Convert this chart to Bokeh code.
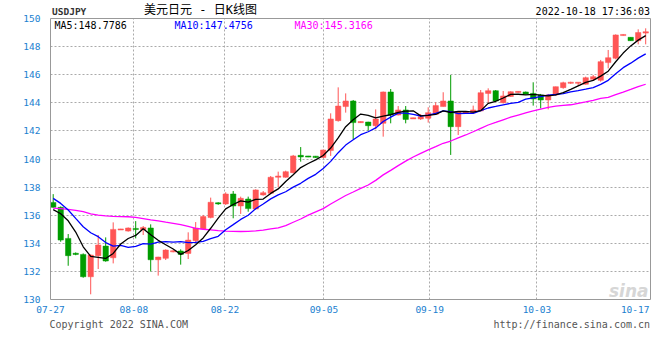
import numpy as np
from bokeh.plotting import figure
from bokeh.models import (Range1d, FixedTicker, Label, ColumnDataSource, LinearAxis, Grid)
from bokeh.embed import file_html
from bokeh.resources import INLINE

# ---- data (USDJPY daily K-line) ----
open_ = [136.91, 136.56, 134.35, 133.28, 133.21, 131.62, 133.12, 133.80, 132.97, 134.97,
         134.87, 135.06, 134.97, 135.09, 132.83, 132.93, 133.41, 133.45, 133.28, 134.18,
         135.02, 135.83, 136.86, 136.80, 137.51, 136.66, 137.15, 136.44, 137.44, 137.56,
         138.70, 138.70, 139.03, 140.26, 140.20, 140.20, 140.10, 140.60, 142.73, 143.73,
         144.13, 142.60, 142.63, 142.37, 142.54, 144.77, 143.13, 143.49, 142.87, 142.85,
         142.90, 143.18, 143.73, 144.13, 142.30, 143.30, 143.30, 143.42, 144.67, 144.86,
         144.01, 144.45, 144.75, 144.77, 144.67, 144.56, 144.20, 144.56, 145.08, 145.40,
         145.40, 145.32, 145.67, 145.60, 146.86, 147.17, 148.80, 148.66, 148.42, 148.96]
high = [137.50, 136.62, 134.66, 133.35, 133.28, 133.21, 134.59, 134.42, 135.49, 135.03,
        135.13, 135.58, 135.23, 135.35, 133.04, 133.57, 133.50, 133.57, 134.78, 135.51,
        136.02, 137.25, 136.92, 137.63, 137.72, 137.32, 137.32, 137.84, 137.72, 138.79,
        139.10, 139.17, 140.29, 140.85, 140.22, 140.22, 140.66, 143.25, 145.10, 144.67,
        144.20, 142.68, 142.65, 143.53, 144.80, 144.98, 143.77, 143.77, 142.94, 143.20,
        143.68, 144.03, 144.75, 145.98, 143.40, 143.38, 143.80, 144.91, 145.03, 144.91,
        144.84, 144.82, 144.82, 144.80, 145.46, 144.63, 144.63, 145.15, 145.50, 145.50,
        145.45, 145.86, 145.98, 147.05, 147.76, 148.87, 148.88, 148.66, 149.23, 149.30]
low = [136.52, 134.11, 132.40, 133.15, 131.55, 130.37, 132.17, 132.69, 132.57, 134.95,
       134.83, 134.35, 134.59, 132.00, 131.70, 132.81, 133.36, 132.48, 132.88, 134.00,
       134.98, 135.78, 136.74, 136.73, 135.78, 136.09, 136.25, 136.42, 137.39, 137.49,
       137.99, 138.67, 138.98, 139.81, 140.13, 140.08, 140.08, 140.22, 142.66, 143.30,
       141.42, 142.58, 142.02, 142.11, 141.59, 142.54, 143.10, 142.54, 142.85, 142.78,
       142.59, 143.13, 143.73, 140.29, 141.71, 143.26, 143.25, 143.40, 144.00, 144.08,
       143.95, 144.42, 144.72, 144.60, 143.80, 143.60, 143.53, 144.50, 145.00, 145.35,
       145.22, 145.30, 145.60, 145.50, 146.45, 147.10, 148.78, 148.42, 148.16, 148.16]
close = [136.56, 134.23, 133.12, 133.22, 131.62, 133.16, 133.88, 132.74, 134.99, 135.00,
         135.09, 134.98, 135.13, 132.83, 133.02, 133.52, 133.45, 133.21, 134.23, 135.09,
         135.90, 136.92, 136.83, 137.51, 136.66, 137.20, 136.47, 137.80, 137.60, 138.70,
         138.79, 139.10, 140.22, 140.15, 140.15, 140.10, 140.64, 142.85, 143.77, 144.13,
         142.59, 142.65, 142.37, 142.85, 144.77, 143.13, 143.49, 142.82, 142.92, 143.01,
         143.30, 143.80, 144.13, 142.30, 143.37, 143.34, 143.49, 144.72, 144.86, 144.13,
         144.49, 144.79, 144.80, 144.63, 144.27, 144.20, 144.56, 145.15, 145.43, 145.45,
         145.45, 145.79, 145.86, 146.93, 147.21, 148.83, 148.85, 148.42, 149.00, 149.06]
ma5 = [136.40, 136.10, 135.60, 134.80, 133.75, 133.07, 133.00, 132.92, 133.28, 133.95,
       134.34, 134.56, 135.04, 134.61, 134.21, 133.90, 133.59, 133.21, 133.49, 133.90,
       134.38, 135.07, 135.79, 136.45, 136.76, 137.02, 136.93, 137.13, 137.15, 137.55,
       137.87, 138.40, 138.88, 139.39, 139.68, 139.94, 140.25, 140.78, 141.50, 142.30,
       142.80, 143.20, 143.10, 142.92, 143.05, 143.15, 143.32, 143.41, 143.43, 143.07,
       143.11, 143.17, 143.43, 143.31, 143.38, 143.39, 143.33, 143.44, 143.96, 144.11,
       144.34, 144.60, 144.61, 144.57, 144.60, 144.54, 144.49, 144.56, 144.72, 144.96,
       145.21, 145.45, 145.60, 145.90, 146.25, 146.92, 147.54, 148.05, 148.46, 148.78]
ma10 = [137.20, 136.84, 136.37, 135.77, 135.18, 134.75, 134.47, 134.05, 133.80, 133.85,
        133.71, 133.78, 133.98, 133.94, 134.08, 134.12, 134.08, 134.12, 134.05, 134.06,
        134.14, 134.33, 134.50, 134.97, 135.33, 135.70, 136.00, 136.46, 136.80, 137.16,
        137.45, 137.67, 138.00, 138.27, 138.62, 138.91, 139.33, 139.83, 140.45, 140.99,
        141.37, 141.73, 141.94, 142.21, 142.67, 142.98, 143.26, 143.26, 143.17, 143.06,
        143.13, 143.25, 143.42, 143.37, 143.23, 143.25, 143.25, 143.44, 143.63, 143.74,
        143.86, 143.96, 144.03, 144.26, 144.35, 144.44, 144.55, 144.59, 144.65, 144.78,
        144.87, 144.97, 145.08, 145.31, 145.60, 146.07, 146.50, 146.82, 147.18, 147.48]
ma30 = [136.50, 136.47, 136.42, 136.35, 136.25, 136.10, 136.00, 135.95, 135.92, 135.90,
        135.89, 135.85, 135.76, 135.66, 135.60, 135.50, 135.42, 135.33, 135.20, 135.06,
        135.00, 134.95, 134.90, 134.87, 134.85, 134.84, 134.85, 134.88, 134.94, 135.02,
        135.10, 135.26, 135.50, 135.73, 136.01, 136.24, 136.47, 136.80, 137.10, 137.40,
        137.65, 137.91, 138.15, 138.48, 138.87, 139.19, 139.53, 139.85, 140.14, 140.40,
        140.65, 140.88, 141.12, 141.28, 141.51, 141.71, 141.94, 142.18, 142.42, 142.60,
        142.79, 142.98, 143.13, 143.28, 143.42, 143.55, 143.68, 143.76, 143.82, 143.86,
        143.96, 144.06, 144.18, 144.31, 144.39, 144.58, 144.76, 144.95, 145.15, 145.32]

y_ticks = [130, 132, 134, 136, 138, 140, 142, 144, 146, 148, 150]
x_tick_labels = ["07-27", "08-08", "08-22", "09-05", "09-19", "10-03", "10-17"]
x_tick_index = [-0.36, 10.75, 22.9, 36.1, 50.2, 64.5, 77.6]

symbol = "USDJPY"
chart_title = "美元日元 - 日K线图"
stamp = "2022-10-18 17:36:03"
legend_texts = ["MA5:148.7786", "MA10:147.4756", "MA30:145.3166"]
footer_left = "Copyright 2022 SINA.COM"
footer_right = "http://finance.sina.com.cn"

# ---- styling ----
RED = "#ff5555"
GREEN = "#009c00"
AXIS_BLUE = "#1a80d0"
FRAME = "#999999"
MONO = "DejaVu Sans Mono"

n = len(close)
idx = np.arange(n)
o = np.array(open_); c = np.array(close); h = np.array(high); l = np.array(low)
up = c >= o
top = np.maximum(o, c)
bot = np.minimum(o, c)
mid = (top + bot) / 2
thin = (top - bot) < 0.08
top = np.where(thin, mid + 0.04, top)
bot = np.where(thin, mid - 0.04, bot)
colors = np.where(up, RED, GREEN)
src = ColumnDataSource(dict(x=idx, o=o, c=c, h=h, l=l, top=top, bot=bot, color=colors))

# plot area in pixels: x 50..650, y 18..299 ; whole canvas is the frame
XL, XR = -0.36, 79.64          # data x at the chart area's edges
YB, YT = y_ticks[0], y_ticks[-1]
PXX = 7.5                      # px per candle
PXY = 281 / (YT - YB)          # px per yen

def dx(px):
    return XL + (px - 50) / PXX

def dy(py):
    return YT - (py - 18) / PXY

W, H = 660, 360
p = figure(width=W, height=H, output_backend="svg", toolbar_location=None,
           x_range=Range1d(dx(0), dx(W)), y_range=Range1d(dy(H), dy(0)),
           x_axis_location=None, y_axis_location=None, min_border=0)
p.outline_line_color = None
p.background_fill_color = "white"
p.border_fill_color = "white"
for g in list(p.grid):
    g.visible = False

def style_axis(ax):
    ax.major_tick_line_color = None
    ax.minor_tick_line_color = None
    ax.axis_line_color = FRAME
    ax.axis_line_width = 1
    ax.major_label_text_font = MONO
    ax.major_label_text_font_size = "9.5px"
    ax.major_label_text_color = AXIS_BLUE

yaxis = LinearAxis(fixed_location=XL, bounds=(YB, YT), ticker=FixedTicker(ticks=y_ticks))
style_axis(yaxis)
yaxis.major_label_standoff = 4
p.add_layout(yaxis, "left")

xaxis = LinearAxis(fixed_location=YB, bounds=(XL, XR), ticker=FixedTicker(ticks=x_tick_index),
                   major_label_overrides={t: s for t, s in zip(x_tick_index, x_tick_labels)})
style_axis(xaxis)
xaxis.major_label_standoff = 0
p.add_layout(xaxis, "below")

topaxis = LinearAxis(fixed_location=YT, bounds=(XL, XR), ticker=FixedTicker(ticks=[]))
style_axis(topaxis)
p.add_layout(topaxis, "above")
rightaxis = LinearAxis(fixed_location=XR, bounds=(YB, YT), ticker=FixedTicker(ticks=[]))
style_axis(rightaxis)
p.add_layout(rightaxis, "right")

xgrid = Grid(dimension=0, ticker=FixedTicker(ticks=x_tick_index[1:-1]), cross_bounds=(YB, YT))
ygrid = Grid(dimension=1, ticker=FixedTicker(ticks=y_ticks[1:-1]), cross_bounds=(XL, XR))
for g in (xgrid, ygrid):
    g.grid_line_color = "#aaaaaa"
    g.grid_line_dash = "2 2"
    g.grid_line_width = 1
    p.add_layout(g)

# candles
p.segment(x0="x", y0="l", x1="x", y1="h", color="color", line_width=1, source=src)
p.vbar(x="x", width=0.72, top="top", bottom="bot", fill_color="color", line_color="color",
       line_width=0.5, source=src)

# moving averages
p.line(idx, ma30, color="#ff00ff", line_width=1.3)
p.line(idx, ma10, color="#0000ff", line_width=1.3)
p.line(idx, ma5, color="#000000", line_width=1.3)

def add_label(px, py, text, align="left", size="10px", color="#000000", font=MONO, style="normal"):
    p.add_layout(Label(x=dx(px), y=dy(py), text=text, text_align=align, text_baseline="middle",
                       text_font=font, text_font_size=size, text_color=color,
                       text_font_style=style))

add_label(51.5, 11, symbol, size="9.5px", color="#333333", style="bold")
add_label(200, 9.5, chart_title, align="center", size="12px", color="#000000",
          font="DejaVu Sans Mono, Noto Sans CJK SC")
add_label(649.5, 11, stamp, align="right", size="10px")
add_label(54, 24.5, legend_texts[0], color="#000000")
add_label(174, 24.5, legend_texts[1], color="#0000ff")
add_label(294, 24.5, legend_texts[2], color="#ff00ff")
add_label(49, 323.5, footer_left, color="#555555")
add_label(649.5, 323.5, footer_right, align="right", color="#555555")
add_label(648, 290, "sina", align="right", size="17px", color="#d6d6d6", font="DejaVu Sans",
          style="bold italic")

open("out.html", "w").write(file_html(p, INLINE))
